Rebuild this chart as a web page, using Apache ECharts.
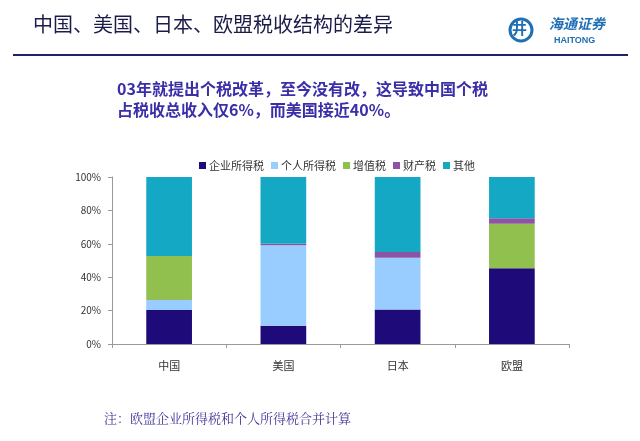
<!DOCTYPE html>
<html><head><meta charset="utf-8">
<script src="https://cdn.jsdelivr.net/npm/echarts@6/dist/echarts.min.js"></script>
<style>html,body{margin:0;padding:0;background:#fff;}#c{width:640px;height:441px;}</style>
</head><body><div id="c"></div>
<script>
const categories = ['中国', '美国', '日本', '欧盟'];
const corpTax = [20.3, 10.9, 20.7, 45.3];
const personalTax = [6.1, 48.3, 31.0, 0];
const vat = [26.3, 0, 0, 26.7];
const propertyTax = [0, 0.8, 3.4, 3.3];
const other = [47.3, 40.0, 44.9, 24.7];
const seriesNames = ['企业所得税', '个人所得税', '增值税', '财产税', '其他'];
const yTicks = [0, 20, 40, 60, 80, 100];

const colors = ['#1e0a78', '#99ccff', '#92c04e', '#8c54a4', '#14a8c4'];
const dataSets = [corpTax, personalTax, vat, propertyTax, other];
const font = '"Noto Sans CJK SC", "Noto Sans", sans-serif';

const chart = echarts.init(document.getElementById('c'), null, {renderer: 'canvas'});
chart.setOption({
  animation: false,
  backgroundColor: '#fff',
  color: colors,
  graphic: [
    {type: 'text', left: 33, top: 14, style: {text: '中国、美国、日本、欧盟税收结构的差异', font: '20px ' + font, fill: '#1c1c4a'}},
    {type: 'line', shape: {x1: 13, y1: 55, x2: 628, y2: 55}, style: {stroke: '#22206e', lineWidth: 2}},
    {type: 'circle', shape: {cx: 521, cy: 30, r: 11}, style: {fill: 'none', stroke: '#1f6fb5', lineWidth: 3}},
    {type: 'text', left: 512, top: 21, style: {text: '井', font: 'bold 15px ' + font, fill: '#1f6fb5'}},
    {type: 'text', left: 549, top: 17, style: {text: '海通证券', font: 'italic bold 14px ' + font, fill: '#1f6fb5'}},
    {type: 'text', left: 554, top: 36, style: {text: 'HAITONG', font: 'bold 9px "Liberation Sans", Arial, sans-serif', fill: '#1f6fb5'}},
    {type: 'text', left: 117, top: 78, style: {text: '03年就提出个税改革，至今没有改，这导致中国个税\n占税收总收入仅6%，而美国接近40%。', font: 'bold 16px ' + font, fill: '#3a2fa8', lineHeight: 21}},
    {type: 'text', left: 104, top: 412, style: {text: '注：欧盟企业所得税和个人所得税合并计算', font: '13px "Noto Serif CJK SC", "DejaVu Serif", serif', fill: '#3f3498'}}
  ],
  legend: {
    top: 155, left: 194,
    itemWidth: 7, itemHeight: 7, itemGap: 7,
    icon: 'rect',
    textStyle: {fontSize: 11, color: '#333', fontFamily: font, padding: [0, 0, 0, -2]},
    data: seriesNames
  },
  grid: {left: 112, right: 71, top: 177, bottom: 97, containLabel: false},
  xAxis: {
    type: 'category', data: categories,
    axisLine: {lineStyle: {color: '#999'}},
    axisTick: {show: true, length: 4, lineStyle: {color: '#999'}},
    axisLabel: {color: '#333', fontSize: 11, margin: 16, fontFamily: font}
  },
  yAxis: {
    type: 'value', min: 0, max: 100, interval: 20,
    axisLine: {show: true, lineStyle: {color: '#999'}},
    axisTick: {show: true, length: 4, lineStyle: {color: '#999'}},
    splitLine: {show: false},
    axisLabel: {color: '#333', fontSize: 10, margin: 11, fontFamily: font,
      formatter: v => yTicks.includes(v) ? v + '%' : ''}
  },
  series: seriesNames.map((n, i) => ({
    name: n, type: 'bar', stack: 'total', barWidth: '40%',
    data: dataSets[i], itemStyle: {color: colors[i]}
  }))
});
</script></body></html>
